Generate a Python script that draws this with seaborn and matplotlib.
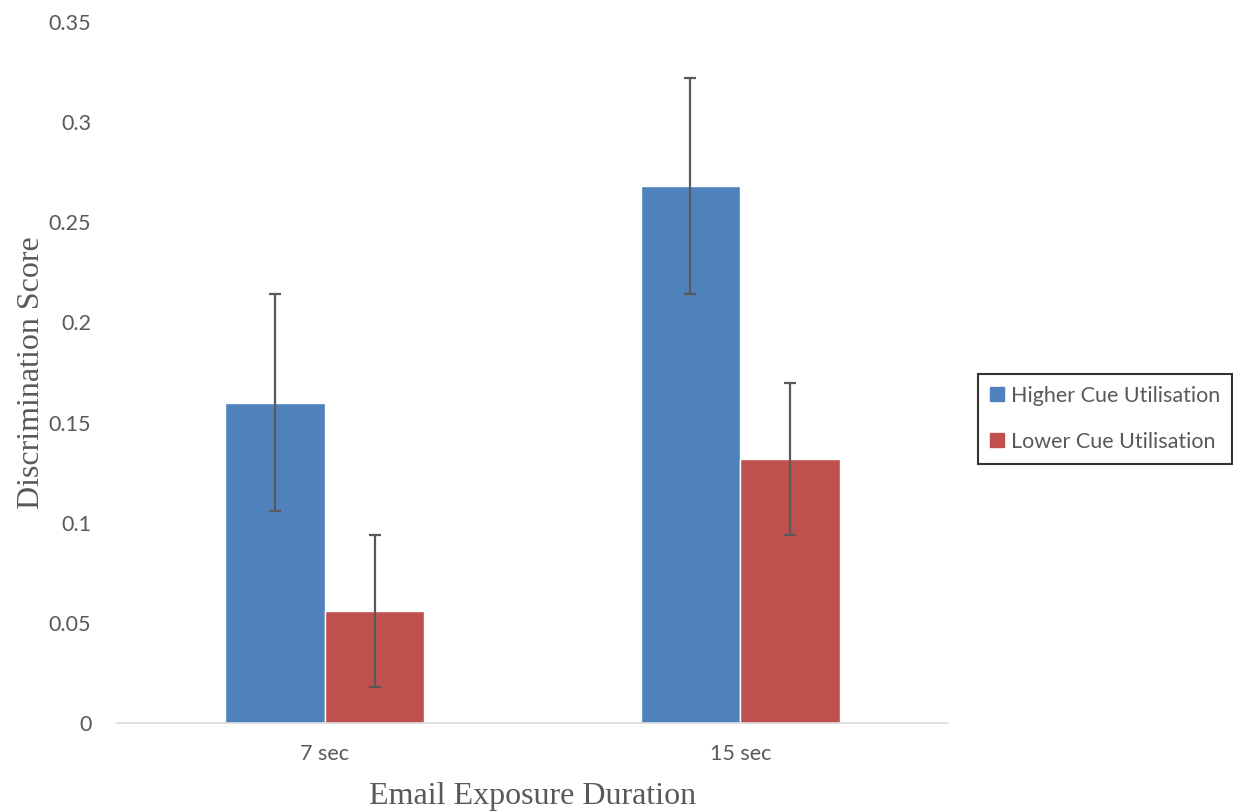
import pandas as pd
import matplotlib.pyplot as plt
import seaborn as sns

# Data
durations = ['7 sec', '15 sec']
groups = ['Higher Cue Utilisation', 'Lower Cue Utilisation']
higher_means = [0.160, 0.268]
lower_means = [0.056, 0.132]
higher_err = [0.054, 0.054]
lower_err = [0.038, 0.038]

df = pd.DataFrame({
    'Duration': durations * 2,
    'Group': [groups[0]] * 2 + [groups[1]] * 2,
    'Score': higher_means + lower_means,
})
errs = {groups[0]: higher_err, groups[1]: lower_err}

sns.set_style('white')
plt.rcParams['font.family'] = ['Lato', 'DejaVu Sans']

fig = plt.figure(figsize=(12.33, 8.11), dpi=100)
ax = fig.add_axes([117 / 1233, 88 / 811, 831 / 1233, 701 / 811])

palette = {groups[0]: '#4F81BD', groups[1]: '#C0504D'}
sns.barplot(data=df, x='Duration', y='Score', hue='Group', order=durations,
            hue_order=groups, palette=palette, width=0.48, errorbar=None,
            saturation=1, ax=ax, legend=True)

# error bars centred on each bar
for cont, g in zip(ax.containers, groups):
    xs = [b.get_x() + b.get_width() / 2 for b in cont]
    ys = [b.get_height() for b in cont]
    ax.errorbar(xs, ys, yerr=errs[g], fmt='none', ecolor='#595959',
                elinewidth=1.6, capsize=4, capthick=1.6)

ax.set_xlim(-0.5, 1.5)
ax.set_ylim(0, 0.35)
ax.set_yticks([0, 0.05, 0.1, 0.15, 0.2, 0.25, 0.3, 0.35])
ax.set_yticklabels(['0', '0.05', '0.1', '0.15', '0.2', '0.25', '0.3', '0.35'])
ax.tick_params(axis='both', length=0, labelsize=15.5, colors='#595959')
ax.tick_params(axis='y', pad=18.5)
ax.tick_params(axis='x', pad=15)

for s in ['top', 'right', 'left']:
    ax.spines[s].set_visible(False)
ax.spines['bottom'].set_color('#D9D9D9')
ax.spines['bottom'].set_linewidth(1.2)

ax.set_xlabel('Email Exposure Duration', family='Liberation Serif',
              fontsize=23, color='#595959', labelpad=13)
ax.set_ylabel('Discrimination Score', family='Liberation Serif',
              fontsize=23, color='#595959', labelpad=2)

ax.get_legend().remove()
handles = [plt.Rectangle((0, 0), 1, 1, color=palette[g]) for g in groups]
leg = fig.legend(handles, groups, loc='upper left',
                 bbox_to_anchor=(978 / 1233, 1 - 374 / 811),
                 borderaxespad=0, frameon=True, fancybox=False, fontsize=15.5,
                 handlelength=0.65, handleheight=0.65, handletextpad=0.35,
                 labelspacing=1.2, borderpad=0.55, labelcolor='#595959')
leg.get_frame().set_edgecolor('black')
leg.get_frame().set_linewidth(1.5)

fig.savefig('out.png', dpi=100)
